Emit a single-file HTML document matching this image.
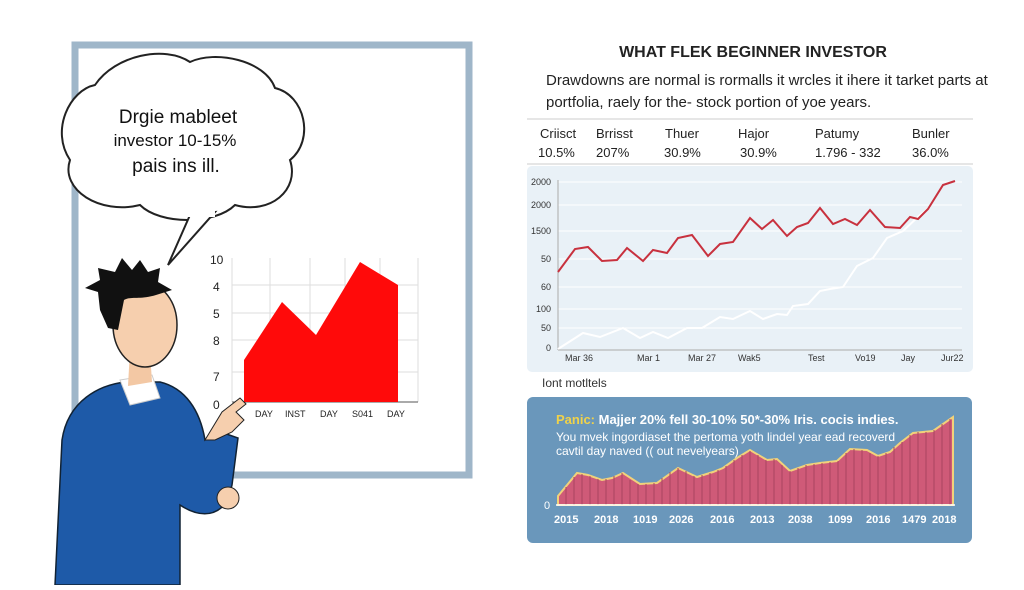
<!DOCTYPE html>
<html><head><meta charset="utf-8"><style>
html,body{margin:0;padding:0;background:#fff;}
body{width:1024px;height:585px;position:relative;overflow:hidden;font-family:"Liberation Sans",sans-serif;}
</style></head><body>
<svg width="1024" height="585" viewBox="0 0 1024 585" xmlns="http://www.w3.org/2000/svg" font-family="Liberation Sans, sans-serif">
<rect x="75" y="45" width="394" height="430" fill="#fff" stroke="#9fb6c9" stroke-width="7"/>
<path d="M95,85 C70,90 50,130 70,160 C60,190 100,215 140,205 C160,225 215,225 235,205 C270,215 300,190 290,160 C315,140 305,95 275,88 C265,60 215,50 190,62 C165,45 115,55 95,85 Z" fill="#fff" stroke="#222" stroke-width="2"/>
<path d="M190,215 L168,265 L215,212 Z" fill="#fff" stroke="#222" stroke-width="2"/>
<rect x="185" y="205" width="30" height="12" fill="#fff"/>
<text x="178" y="123" font-size="19" text-anchor="middle" fill="#111">Drgie mableet</text>
<text x="175" y="146" font-size="17" text-anchor="middle" fill="#111">investor 10-15%</text>
<text x="176" y="172" font-size="19" text-anchor="middle" fill="#111">pais ins ill.</text>
<g stroke="#ddd" stroke-width="1">
<line x1="232" y1="258" x2="232" y2="402"/><line x1="270" y1="258" x2="270" y2="402"/><line x1="310" y1="258" x2="310" y2="402"/><line x1="345" y1="258" x2="345" y2="402"/><line x1="380" y1="258" x2="380" y2="402"/><line x1="418" y1="258" x2="418" y2="402"/>
<line x1="232" y1="285" x2="418" y2="285"/><line x1="232" y1="313" x2="418" y2="313"/><line x1="232" y1="340" x2="418" y2="340"/><line x1="232" y1="372" x2="418" y2="372"/>
</g>
<line x1="232" y1="402" x2="418" y2="402" stroke="#555"/>
<polygon points="244,360 282,302 316,335 360,262 398,285 398,402 244,402" fill="#ff0a0a"/>
<g font-size="12" fill="#222"><text x="210" y="264">10</text><text x="213" y="291">4</text><text x="213" y="318">5</text><text x="213" y="345">8</text><text x="213" y="381">7</text><text x="213" y="409">0</text></g>
<g font-size="9" fill="#222"><text x="255" y="417">DAY</text><text x="285" y="417">INST</text><text x="320" y="417">DAY</text><text x="352" y="417">S041</text><text x="387" y="417">DAY</text></g>
<!-- person -->
<path d="M55,585 L62,440 C68,400 100,385 125,382 L160,382 C185,388 200,410 205,440 L215,430 L238,438 L232,485 L228,500 C215,520 195,515 180,505 L180,585 Z" fill="#1e5aa8" stroke="#123" stroke-width="1.5"/>
<path d="M120,380 L152,375 L160,398 L130,405 Z" fill="#fff" stroke="#ccc"/>
<path d="M130,350 L150,352 L152,382 L128,386 Z" fill="#f3c8a4"/>
<path d="M205,440 L222,412 L240,398 L246,404 L236,412 L244,420 L232,432 L215,440 Z" fill="#f6cfae" stroke="#222"/>
<ellipse cx="145" cy="325" rx="32" ry="42" fill="#f6cfae" stroke="#222" stroke-width="1.5"/>
<path d="M100,310 L98,292 L85,288 L100,280 L98,268 L115,272 L122,258 L132,270 L140,260 L148,272 L160,268 L158,282 L172,290 L156,295 C140,300 130,296 124,300 L118,330 L108,328 Z" fill="#111"/>
<circle cx="228" cy="498" r="11" fill="#f6cfae" stroke="#222"/>
<text x="753" y="57" font-size="16" font-weight="bold" text-anchor="middle" fill="#222">WHAT FLEK BEGINNER INVESTOR</text>
<text x="546" y="85" font-size="15" fill="#222">Drawdowns are normal is rormalls it wrcles it ihere it tarket parts at</text>
<text x="546" y="107" font-size="15" fill="#222">portfolia, raely for the- stock portion of yoe years.</text>
<line x1="527" y1="119" x2="973" y2="119" stroke="#ccc"/>
<line x1="527" y1="164" x2="973" y2="164" stroke="#ccc"/>
<g font-size="13" fill="#222">
<text x="540" y="138">Criisct</text><text x="596" y="138">Brrisst</text><text x="665" y="138">Thuer</text><text x="738" y="138">Hajor</text><text x="815" y="138">Patumy</text><text x="912" y="138">Bunler</text>
<text x="538" y="157">10.5%</text><text x="596" y="157">207%</text><text x="664" y="157">30.9%</text><text x="740" y="157">30.9%</text><text x="815" y="157">1.796 - 332</text><text x="912" y="157">36.0%</text>
</g>
<rect x="527" y="166" width="446" height="206" rx="5" fill="#e9f1f7"/>
<g stroke="#fff" stroke-width="1"><line x1="558" y1="182" x2="962" y2="182"/><line x1="558" y1="205" x2="962" y2="205"/><line x1="558" y1="231" x2="962" y2="231"/><line x1="558" y1="259" x2="962" y2="259"/><line x1="558" y1="287" x2="962" y2="287"/><line x1="558" y1="309" x2="962" y2="309"/><line x1="558" y1="328" x2="962" y2="328"/></g>
<line x1="558" y1="180" x2="558" y2="350" stroke="#aaa"/>
<line x1="558" y1="350" x2="962" y2="350" stroke="#aaa"/>
<g font-size="9" fill="#333" text-anchor="end"><text x="551" y="185">2000</text><text x="551" y="208">2000</text><text x="551" y="234">1500</text><text x="551" y="262">50</text><text x="551" y="290">60</text><text x="551" y="312">100</text><text x="551" y="331">50</text><text x="551" y="351">0</text></g>
<g font-size="9" fill="#333"><text x="565" y="361">Mar 36</text><text x="637" y="361">Mar 1</text><text x="688" y="361">Mar 27</text><text x="738" y="361">Wak5</text><text x="808" y="361">Test</text><text x="855" y="361">Vo19</text><text x="901" y="361">Jay</text><text x="941" y="361">Jur22</text></g>
<polyline fill="none" stroke="#fff" stroke-width="2" points="558,349 583,333 600,337 623,328 640,338 653,332 668,338 687,328 702,328 720,317 733,319 750,311 763,319 777,314 787,315 793,306 808,304 820,291 830,289 843,287 857,266 873,258 887,238 903,231 920,215 930,207"/>
<polyline fill="none" stroke="#c8313e" stroke-width="2" points="558,272 575,249 588,247 602,261 617,260 627,248 643,261 653,250 667,253 678,238 692,235 708,256 720,244 733,242 750,218 762,229 773,220 787,236 797,227 808,223 820,208 833,224 845,219 857,225 870,210 885,227 900,228 910,217 918,219 928,209 943,185 955,181"/>
<text x="542" y="387" font-size="12" fill="#333">Iont motltels</text>
<rect x="527" y="397" width="445" height="146" rx="6" fill="#6a97bb"/>
<polygon fill="#cf5a78" stroke="#f1d27a" stroke-width="2" points="558,496 577,473 588,475 602,480 612,478 623,473 640,484 657,483 678,468 697,477 713,472 723,468 737,458 750,450 767,460 777,459 790,471 807,465 820,463 837,461 850,449 867,450 878,456 890,452 900,443 913,433 933,431 953,417 953,505 558,505"/>
<g stroke="#a8445f" stroke-width="1">
<path d="M566,505V487M574,505V477M582,505V474M590,505V476M598,505V479M606,505V479M614,505V476M622,505V473M630,505V480M638,505V484M646,505V484M654,505V483M662,505V478M670,505V472M678,505V468M686,505V471M694,505V476M702,505V475M710,505V473M718,505V470M726,505V466M734,505V460M742,505V455M750,505V451M758,505V455M766,505V460M774,505V459M782,505V465M790,505V471M798,505V468M806,505V465M814,505V464M822,505V463M830,505V462M838,505V461M846,505V453M854,505V449M862,505V450M870,505V453M878,505V456M886,505V453M894,505V447M902,505V442M910,505V435M918,505V432M926,505V432M934,505V430M942,505V424M950,505V419"/>
</g>
<line x1="556" y1="505" x2="955" y2="505" stroke="#fff" stroke-width="1.5"/>
<text x="544" y="509" font-size="11" fill="#fff">0</text>
<text x="556" y="424" font-size="13" font-weight="bold" fill="#f0d24a">Panic: <tspan fill="#fff">Majjer 20% fell 30-10% 50*-30% Iris. cocis indies.</tspan></text>
<text x="556" y="441" font-size="12" fill="#fff">You mvek ingordiaset the pertoma yoth lindel year ead recoverd</text>
<text x="556" y="455" font-size="12" fill="#fff">cavtil day naved (( out nevelyears)</text>
<g font-size="11" font-weight="bold" fill="#fff"><text x="554" y="523">2015</text><text x="594" y="523">2018</text><text x="633" y="523">1019</text><text x="669" y="523">2026</text><text x="710" y="523">2016</text><text x="750" y="523">2013</text><text x="788" y="523">2038</text><text x="828" y="523">1099</text><text x="866" y="523">2016</text><text x="902" y="523">1479</text><text x="932" y="523">2018</text></g>
</svg>
</body></html>
